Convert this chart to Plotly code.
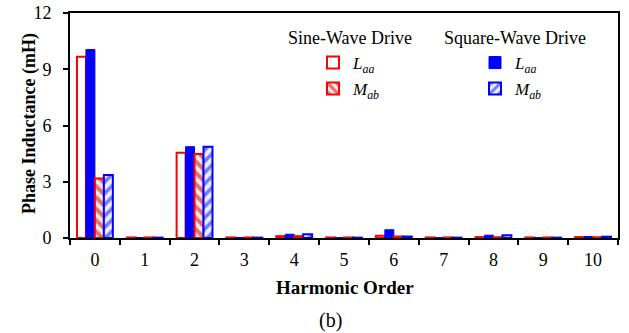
import plotly.graph_objects as go

harmonics = ["0", "1", "2", "3", "4", "5", "6", "7", "8", "9", "10"]
sine_Laa = [9.67, 0.03, 4.55, 0.03, 0.10, 0.03, 0.12, 0.03, 0.05, 0.03, 0.05]
square_Laa = [10.05, 0.02, 4.87, 0.02, 0.20, 0.02, 0.44, 0.02, 0.15, 0.02, 0.08]
sine_Mab = [3.18, 0.03, 4.48, 0.03, 0.10, 0.03, 0.08, 0.03, 0.04, 0.03, 0.04]
square_Mab = [3.36, 0.02, 4.87, 0.02, 0.20, 0.02, 0.08, 0.02, 0.15, 0.02, 0.07]

FONT = "Liberation Serif, Times New Roman, serif"
RED = "#FF0000"
BLUE = "#0000FF"

fig = go.Figure()
fig.add_trace(go.Bar(
    x=harmonics, y=sine_Laa, name="<i>L<sub>aa</sub></i>", legend="legend",
    marker=dict(color="white", line=dict(color=RED, width=2))))
fig.add_trace(go.Bar(
    x=harmonics, y=square_Laa, name="<i>L<sub>aa</sub></i>", legend="legend3",
    marker=dict(color=BLUE, line=dict(color=BLUE, width=1))))
fig.add_trace(go.Bar(
    x=harmonics, y=sine_Mab, name="<i>M<sub>ab</sub></i>", legend="legend2",
    marker=dict(color="#FFE0E0", line=dict(color=RED, width=2),
                pattern=dict(shape="\\", fgcolor="#B00000", bgcolor="#FFE8E8",
                             size=8, solidity=0.5))))
fig.add_trace(go.Bar(
    x=harmonics, y=square_Mab, name="<i>M<sub>ab</sub></i>", legend="legend4",
    marker=dict(color="#E0E8FF", line=dict(color=BLUE, width=2),
                pattern=dict(shape="/", fgcolor=BLUE, bgcolor="#E8F0FF",
                             size=8, solidity=0.45))))

L, R, T, B = 70, 11, 13, 95
W, H = 629, 333
pw, ph = W - L - R, H - T - B

def px(xp):
    return (xp - L) / pw

def py(yp):
    return (H - B - yp) / ph

leg_common = dict(font=dict(family=FONT, size=17, color="black"),
                  bgcolor="rgba(0,0,0,0)", borderwidth=0,
                  xanchor="left", yanchor="middle", itemwidth=30)

fig.update_layout(
    width=W, height=H,
    margin=dict(l=L, r=R, t=T, b=B, autoexpand=False),
    paper_bgcolor="white", plot_bgcolor="white",
    barmode="group", bargap=0.28, bargroupgap=0,
    font=dict(family=FONT, size=16, color="black"),
    showlegend=True,
    legend=dict(x=px(313), y=py(63), **leg_common),
    legend2=dict(x=px(313), y=py(89), **leg_common),
    legend3=dict(x=px(475), y=py(63), **leg_common),
    legend4=dict(x=px(475), y=py(89), **leg_common),
    xaxis=dict(type="category", showline=True, linecolor="black", linewidth=2,
               mirror=True, ticks="outside", tickson="boundaries", ticklen=5,
               tickwidth=2, tickcolor="black", automargin=False,
               ticklabelstandoff=4,
               tickfont=dict(family=FONT, size=18),
               showgrid=False),
    yaxis=dict(range=[0, 12], dtick=3, showline=True, linecolor="black", linewidth=2,
               mirror=True, ticks="outside", ticklen=5, tickwidth=2, tickcolor="black",
               automargin=False, ticklabelstandoff=8,
               tickfont=dict(family=FONT, size=18),
               showgrid=False, zeroline=False),
    annotations=[
        dict(text="<b>Harmonic Order</b>", x=px(345), y=py(287), xref="paper", yref="paper",
             showarrow=False, font=dict(family=FONT, size=19), xanchor="center", yanchor="middle"),
        dict(text="<b>Phase Inductance (mH)</b>", x=px(30), y=py(124), xref="paper", yref="paper",
             textangle=-90, showarrow=False, font=dict(family=FONT, size=18),
             xanchor="center", yanchor="middle"),
        dict(text="Sine-Wave Drive", x=px(349.5), y=py(37.5), xref="paper", yref="paper",
             showarrow=False, font=dict(family=FONT, size=18), xanchor="center", yanchor="middle"),
        dict(text="Square-Wave Drive", x=px(515), y=py(37.5), xref="paper", yref="paper",
             showarrow=False, font=dict(family=FONT, size=18), xanchor="center", yanchor="middle"),
        dict(text="(b)", x=px(330), y=py(320), xref="paper", yref="paper",
             showarrow=False, font=dict(family=FONT, size=20), xanchor="center", yanchor="middle"),
    ],
)

fig.write_html("out.html", config={"displayModeBar": False},
               post_script="document.body.style.margin='0';document.body.style.overflow='hidden';")
